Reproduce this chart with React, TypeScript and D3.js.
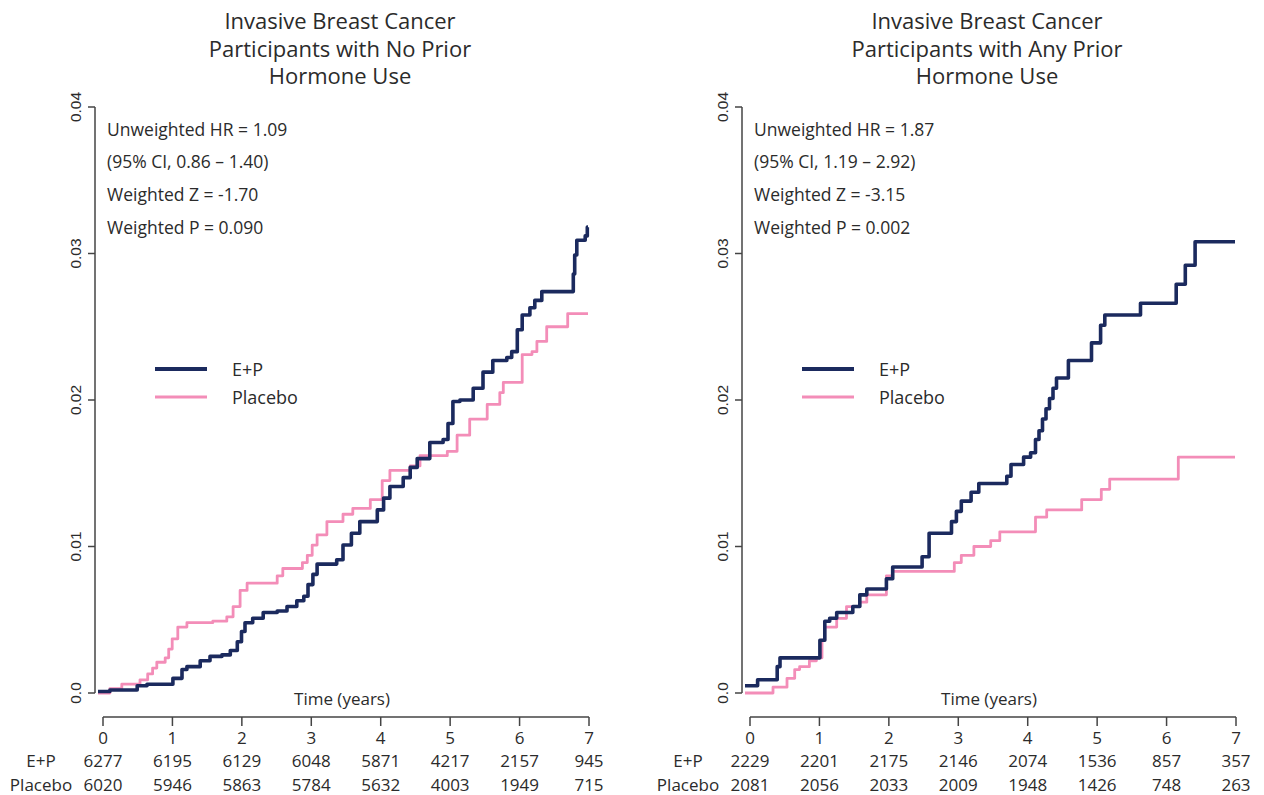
import React from 'react';
import * as d3 from 'd3';

const NAVY = '#1b2a5e';
const PINK = '#f38db8';
const INK = '#2b2b2b';

const TIME_TICKS = [0, 1, 2, 3, 4, 5, 6, 7];
const Y_TICKS = [0, 0.01, 0.02, 0.03, 0.04];
const Y_TICK_LABELS = ['0.0', '0.01', '0.02', '0.03', '0.04'];
const GROUPS = ['E+P', 'Placebo'];

const LEFT_TITLE = ['Invasive Breast Cancer', 'Participants with No Prior', 'Hormone Use'];
const RIGHT_TITLE = ['Invasive Breast Cancer', 'Participants with Any Prior', 'Hormone Use'];

const LEFT_STATS = ['Unweighted HR = 1.09', '(95% CI, 0.86 \u2013 1.40)', 'Weighted Z = -1.70', 'Weighted P = 0.090'];
const RIGHT_STATS = ['Unweighted HR = 1.87', '(95% CI, 1.19 \u2013 2.92)', 'Weighted Z = -3.15', 'Weighted P = 0.002'];

const LEFT_RISK_EP = [6277, 6195, 6129, 6048, 5871, 4217, 2157, 945];
const LEFT_RISK_PLACEBO = [6020, 5946, 5863, 5784, 5632, 4003, 1949, 715];
const RIGHT_RISK_EP = [2229, 2201, 2175, 2146, 2074, 1536, 857, 357];
const RIGHT_RISK_PLACEBO = [2081, 2056, 2033, 2009, 1948, 1426, 748, 263];

// [time in years, cumulative hazard]
const LEFT_EP: [number, number][] = [
  [0, 0.0001], [0.17, 0.0002], [0.56, 0.0005], [0.7, 0.0006], [1.07, 0.001], [1.2, 0.0016],
  [1.27, 0.0018], [1.46, 0.0022], [1.6, 0.0025], [1.77, 0.0026], [1.89, 0.0029], [1.99, 0.0035],
  [2.05, 0.0042], [2.1, 0.0048], [2.21, 0.0051], [2.36, 0.0055], [2.56, 0.0056], [2.7, 0.0059],
  [2.84, 0.0063], [2.94, 0.0066], [3.0, 0.0074], [3.07, 0.0081], [3.13, 0.0088], [3.41, 0.0091],
  [3.5, 0.0101], [3.62, 0.0109], [3.74, 0.0117], [3.99, 0.0125], [4.08, 0.0133], [4.17, 0.0141],
  [4.36, 0.0147], [4.46, 0.0154], [4.56, 0.016], [4.74, 0.0171], [4.93, 0.0173], [5.0, 0.0184],
  [5.07, 0.0199], [5.17, 0.02], [5.36, 0.0208], [5.5, 0.0219], [5.64, 0.0227], [5.84, 0.0229],
  [5.91, 0.0233], [5.99, 0.0248], [6.06, 0.0258], [6.17, 0.0263], [6.24, 0.0268], [6.34, 0.0274],
  [6.79, 0.0286], [6.81, 0.0299], [6.84, 0.0309], [6.96, 0.0312], [6.99, 0.0318],
];

const LEFT_PLACEBO: [number, number][] = [
  [0, 0], [0.17, 0.0003], [0.34, 0.0006], [0.6, 0.0009], [0.71, 0.0013], [0.78, 0.0017],
  [0.84, 0.0021], [0.96, 0.0024], [1.01, 0.003], [1.06, 0.0037], [1.14, 0.0045], [1.27, 0.0048],
  [1.64, 0.0049], [1.84, 0.0052], [1.93, 0.0059], [2.03, 0.007], [2.13, 0.0075], [2.56, 0.008],
  [2.64, 0.0085], [2.92, 0.0089], [2.99, 0.0094], [3.06, 0.0101], [3.13, 0.0108], [3.27, 0.0117],
  [3.5, 0.0122], [3.64, 0.0126], [3.89, 0.0132], [4.06, 0.0145], [4.17, 0.0152], [4.46, 0.0155],
  [4.6, 0.0162], [4.99, 0.0165], [5.13, 0.0176], [5.31, 0.0187], [5.56, 0.0197], [5.74, 0.0205],
  [5.79, 0.0212], [6.06, 0.0231], [6.2, 0.0233], [6.27, 0.024], [6.41, 0.025], [6.71, 0.0259],
];

const RIGHT_EP: [number, number][] = [
  [0, 0.0005], [0.18, 0.0009], [0.46, 0.0018], [0.5, 0.0024], [1.07, 0.0036], [1.14, 0.0049],
  [1.21, 0.0051], [1.31, 0.0055], [1.54, 0.0059], [1.64, 0.0067], [1.74, 0.0071], [2.02, 0.0078],
  [2.11, 0.0086], [2.53, 0.0093], [2.63, 0.0109], [2.95, 0.0117], [3.02, 0.0124], [3.09, 0.0131],
  [3.23, 0.0137], [3.34, 0.0143], [3.74, 0.0148], [3.8, 0.0156], [3.98, 0.0161], [4.08, 0.0164],
  [4.15, 0.0173], [4.2, 0.0179], [4.25, 0.0187], [4.3, 0.0194], [4.35, 0.0201], [4.4, 0.0208],
  [4.45, 0.0215], [4.62, 0.0227], [4.95, 0.0239], [5.08, 0.0251], [5.14, 0.0258], [5.65, 0.0266],
  [6.16, 0.0279], [6.29, 0.0292], [6.43, 0.0308],
];

const RIGHT_PLACEBO: [number, number][] = [
  [0, 0], [0.4, 0.0004], [0.6, 0.001], [0.71, 0.0016], [0.78, 0.0018], [0.92, 0.0022],
  [1.02, 0.0024], [1.1, 0.0036], [1.14, 0.0045], [1.31, 0.0051], [1.45, 0.0059], [1.64, 0.0062],
  [1.74, 0.0067], [2.02, 0.008], [2.11, 0.0083], [2.99, 0.0089], [3.09, 0.0094], [3.27, 0.01],
  [3.51, 0.0104], [3.64, 0.011], [4.15, 0.012], [4.31, 0.0125], [4.81, 0.0132], [5.09, 0.0139],
  [5.21, 0.0146], [6.19, 0.0161],
];

const SANS = '"Open Sans", Lato, sans-serif';

type PanelProps = {
  dx: number;
  title: string[];
  stats: string[];
  ep: [number, number][];
  placebo: [number, number][];
  riskEp: number[];
  riskPlacebo: number[];
};

function Panel({ dx, title, stats, ep, placebo, riskEp, riskPlacebo }: PanelProps) {
  const x = d3.scaleLinear().domain([0, 7]).range([98 + dx, 588 + dx]);
  const y = d3.scaleLinear().domain([0, 0.04]).range([693, 107]);
  const xTable = d3.scaleLinear().domain([0, 7]).range([103 + dx, 589 + dx]);
  const axisX = 95 + dx;

  const line = d3
    .line<[number, number]>()
    .x(d => x(d[0]))
    .y(d => y(d[1]))
    .curve(d3.curveStepAfter);
  const extend = (s: [number, number][]) => s.concat([[7, s[s.length - 1][1]]]);

  const titleX = 340 + dx;
  const legendX = 155 + dx;

  return (
    <g>
      {title.map((t, i) => (
        <text key={t} x={titleX} y={20 + i * 27.5} textAnchor="middle" dominantBaseline="central"
          fontFamily={SANS} fontSize={22} fill={INK}>{t}</text>
      ))}

      {/* y axis */}
      <line x1={axisX} x2={axisX} y1={y(0.04)} y2={y(0)} stroke="#444" strokeWidth={1.5} />
      {Y_TICKS.map((v, i) => (
        <g key={v}>
          <line x1={axisX - 7} x2={axisX} y1={y(v)} y2={y(v)} stroke="#444" strokeWidth={1.5} />
          <text transform={`translate(${axisX - 20},${y(v)}) rotate(-90)`} textAnchor="middle"
            dominantBaseline="central" fontFamily='"Liberation Sans", Arial, sans-serif' fontSize={15.5} fill={INK}>
            {Y_TICK_LABELS[i]}
          </text>
        </g>
      ))}

      {stats.map((s, i) => (
        <text key={s} x={107 + dx} y={128.5 + i * 32.8} dominantBaseline="central"
          fontFamily={SANS} fontSize={17.5} fill={INK}>{s}</text>
      ))}

      {/* legend */}
      {GROUPS.map((g, i) => (
        <g key={g}>
          <line x1={legendX} x2={legendX + 52} y1={369 + i * 28} y2={369 + i * 28}
            stroke={i === 0 ? NAVY : PINK} strokeWidth={i === 0 ? 4 : 3} />
          <text x={legendX + 77} y={369 + i * 28} dominantBaseline="central"
            fontFamily={SANS} fontSize={18} fill={INK}>{g}</text>
        </g>
      ))}

      <path d={line(extend(placebo)) || ''} fill="none" stroke={PINK} strokeWidth={2.8} strokeLinejoin="round" />
      <path d={line(extend(ep)) || ''} fill="none" stroke={NAVY} strokeWidth={3.6} strokeLinejoin="round" />

      <text x={342 + dx} y={698} textAnchor="middle" dominantBaseline="central"
        fontFamily={SANS} fontSize={17} fill={INK}>Time (years)</text>

      {/* number at risk axis */}
      <line x1={xTable(0)} x2={xTable(7)} y1={717} y2={717} stroke="#444" strokeWidth={1.5} />
      {TIME_TICKS.map((t, i) => (
        <g key={t}>
          <line x1={xTable(t)} x2={xTable(t)} y1={717} y2={726} stroke="#444" strokeWidth={1.5} />
          <text x={xTable(t)} y={737} textAnchor="middle" dominantBaseline="central"
            fontFamily={SANS} fontSize={17} fill={INK}>{t}</text>
          <text x={xTable(t)} y={760} textAnchor="middle" dominantBaseline="central"
            fontFamily={SANS} fontSize={17} fill={INK}>{riskEp[i]}</text>
          <text x={xTable(t)} y={784} textAnchor="middle" dominantBaseline="central"
            fontFamily={SANS} fontSize={17} fill={INK}>{riskPlacebo[i]}</text>
        </g>
      ))}
      {GROUPS.map((g, i) => (
        <text key={g} x={xTable(0) - 62} y={760 + i * 24} textAnchor="middle" dominantBaseline="central"
          fontFamily={SANS} fontSize={17} fill={INK}>{g}</text>
      ))}
    </g>
  );
}

export default function App() {
  return (
    <div style={{ position: 'absolute', left: 0, top: 0 }}>
      <svg width={1264} height={795} style={{ display: 'block', background: '#fff' }}>
        <Panel dx={0} title={LEFT_TITLE} stats={LEFT_STATS} ep={LEFT_EP} placebo={LEFT_PLACEBO}
          riskEp={LEFT_RISK_EP} riskPlacebo={LEFT_RISK_PLACEBO} />
        <Panel dx={647} title={RIGHT_TITLE} stats={RIGHT_STATS} ep={RIGHT_EP} placebo={RIGHT_PLACEBO}
          riskEp={RIGHT_RISK_EP} riskPlacebo={RIGHT_RISK_PLACEBO} />
      </svg>
    </div>
  );
}
